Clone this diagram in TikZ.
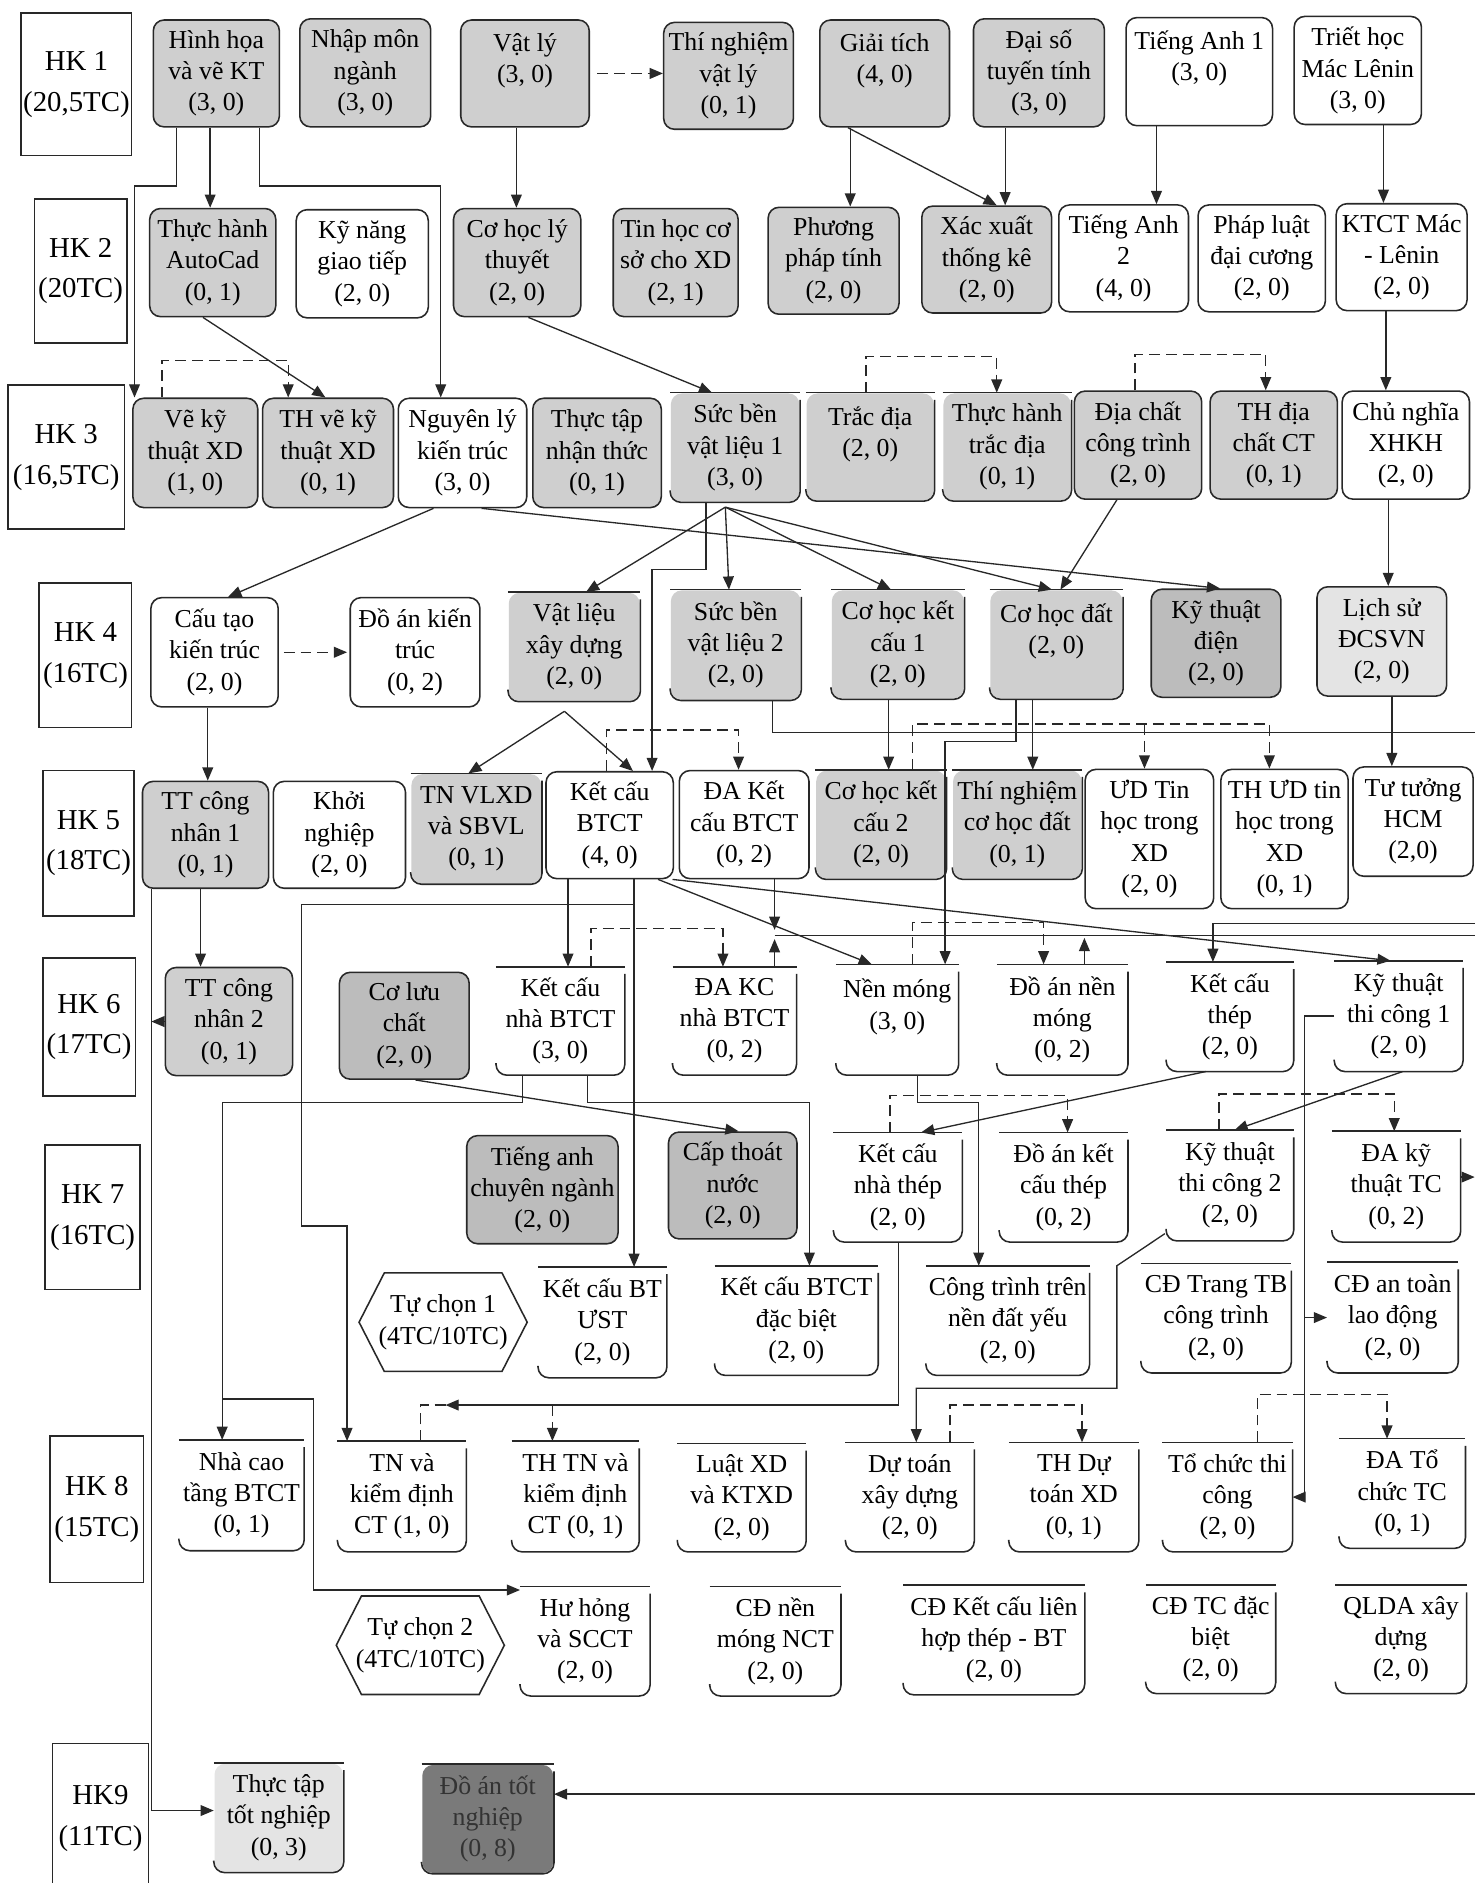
\documentclass[tikz,border=0pt]{standalone}
\usepackage{fontspec}
\setmainfont{Liberation Serif}
\usetikzlibrary{arrows.meta}
\definecolor{ink}{RGB}{40,40,40}
\definecolor{boxgray}{RGB}{207,207,207}
\definecolor{boxgraydk}{RGB}{188,188,188}
\definecolor{boxgraylt}{RGB}{228,228,228}
\definecolor{boxdark}{RGB}{122,122,122}
\newcommand{\coursefont}{\fontsize{21.5}{26}\selectfont}
\newcommand{\semfont}{\fontsize{24}{34}\selectfont}
\begin{document}
\begin{tikzpicture}[%
        x=1pt, y=-1pt,
        mybox/.style={draw=ink, line width=1.3pt, rounded corners=9pt, fill=white,
            anchor=north west, align=center, inner sep=1pt, font=\coursefont},
        mygray/.style={mybox, fill=boxgray},
        myopen/.style={mybox, draw=none},
        mygrayopen/.style={myopen, fill=boxgray},
        mysem/.style={draw=ink, line width=1.3pt, anchor=north west, align=center,
            inner sep=1pt, font=\semfont},
        myedge/.style={draw=ink, line width=1.3pt},
        wh/.style 2 args={minimum width=#1, minimum height=#2},
        myline/.style={draw=ink, line width=1.1pt},
        mylink/.style={myline, -{Triangle[length=11pt,width=9pt]}},
        mydash/.style={mylink, dash pattern=on 9pt off 5pt}
    ]
    \useasboundingbox (0,0) rectangle (1228,1568);
    \fill[white] (0,0) rectangle (1228,1568);

    \node[mysem, wh={92}{119}] (hk1) at (17,10) {HK 1\\(20,5TC)};
    \node[mygray, wh={105}{89}] (hinhhoa) at (127,16) {Hình họa\\và vẽ KT\\(3, 0)};
    \node[mygray, wh={109}{90}] (nhapmon) at (249,15) {Nhập môn\\ngành\\(3, 0)};
    \node[mygray, wh={107}{89}] (vatly) at (383,16) {Vật lý\\(3, 0)\\~};
    \node[mygray, wh={108}{89}] (tnvatly) at (552,18) {Thí nghiệm\\vật lý\\(0, 1)};
    \node[mygray, wh={108}{89}] (giaitich) at (682,16) {Giải tích\\(4, 0)\\~};
    \node[mygray, wh={109}{90}] (daiso) at (810,15) {Đại số\\tuyến tính\\(3, 0)};
    \node[mybox, wh={122}{90}] (tienganh1) at (937,14) {Tiếng Anh 1\\(3, 0)\\~};
    \node[mybox, wh={106}{90}] (triethoc) at (1077,13) {Triết học\\Mác Lênin\\(3, 0)};

    \node[mysem, wh={77}{120}] (hk2) at (28,165) {HK 2\\(20TC)};
    \node[mygray, wh={105}{90}] (autocad) at (124,173) {Thực hành\\AutoCad\\(0, 1)};
    \node[mybox, wh={110}{90}] (kynang) at (246,174) {Kỹ năng\\giao tiếp\\(2, 0)};
    \node[mygray, wh={106}{90}] (cohoclt) at (377,173) {Cơ học lý\\thuyết\\(2, 0)};
    \node[mygray, wh={104}{90}] (tinhoc) at (510,173) {Tin học cơ\\sở cho XD\\(2, 1)};
    \node[mygray, wh={109}{89}] (pppt) at (639,172) {Phương\\pháp tính\\(2, 0)};
    \node[mygray, wh={108}{89}] (xacxuat) at (767,171) {Xác xuất\\thống kê\\(2, 0)};
    \node[mybox, wh={108}{89}] (tienganh2) at (881,170) {Tiếng Anh\\2\\(4, 0)};
    \node[mybox, wh={106}{89}] (phapluat) at (997,170) {Pháp luật\\đại cương\\(2, 0)};
    \node[mybox, wh={109}{89}] (ktct) at (1112,169) {KTCT Mác\\- Lênin\\(2, 0)};

    \node[mysem, wh={97}{120}] (hk3) at (6,320) {HK 3\\(16,5TC)};
    \node[mygray, wh={104}{91}] (vekt) at (110,331) {Vẽ kỹ\\thuật XD\\(1, 0)};
    \node[mygray, wh={109}{91}] (thvekt) at (218,331) {TH vẽ kỹ\\thuật XD\\(0, 1)};
    \node[mybox, wh={107}{91}] (nguyenly) at (331,331) {Nguyên lý\\kiến trúc\\(3, 0)};
    \node[mygray, wh={107}{91}] (thuctapnt) at (443,331) {Thực tập\\nhận thức\\(0, 1)};
    \node[mygrayopen, wh={107}{90}] (sbvl1) at (558,327) {Sức bền\\vật liệu 1\\(3, 0)};
    \node[mygrayopen, wh={106}{89}] (tracdia) at (671,327) {Trắc địa\\(2, 0)\\~};
    \node[mygrayopen, wh={106}{89}] (thtracdia) at (785,327) {Thực hành\\trắc địa\\(0, 1)};
    \node[mygray, wh={106}{90}] (diachat) at (894,325) {Địa chất\\công trình\\(2, 0)};
    \node[mygray, wh={106}{90}] (thdiachat) at (1007,325) {TH địa\\chất CT\\(0, 1)};
    \node[mybox, wh={106}{90}] (cnxhkh) at (1117,325) {Chủ nghĩa\\XHKH\\(2, 0)};

    \node[mysem, wh={77}{120}] (hk4) at (32,485) {HK 4\\(16TC)};
    \node[mybox, wh={106}{91}] (cautao) at (125,497) {Cấu tạo\\kiến trúc\\(2, 0)};
    \node[mybox, wh={108}{91}] (doankt) at (291,497) {Đồ án kiến\\trúc\\(0, 2)};
    \node[mygrayopen, wh={109}{90}] (vlxd) at (423,493) {Vật liệu\\xây dựng\\(2, 0)};
    \node[mygrayopen, wh={108}{91}] (sbvl2) at (558,491) {Sức bền\\vật liệu 2\\(2, 0)};
    \node[mygrayopen, wh={110}{90}] (chkc1) at (692,491) {Cơ học kết\\cấu 1\\(2, 0)};
    \node[mygrayopen, wh={110}{90}] (chdat) at (824,491) {Cơ học đất\\(2, 0)\\~};
    \node[mygray, fill=boxgraydk, wh={108}{90}] (ktdien) at (958,490) {Kỹ thuật\\điện\\(2, 0)};
    \node[mybox, fill=boxgraylt, wh={108}{91}] (lichsu) at (1096,488) {Lịch sử\\ĐCSVN\\(2, 0)};

    \node[mysem, wh={76}{121}] (hk5) at (35,641) {HK 5\\(18TC)};
    \node[mygray, wh={105}{89}] (ttcn1) at (118,650) {TT công\\nhân 1\\(0, 1)};
    \node[mybox, wh={110}{89}] (khoinghiep) at (227,650) {Khởi\\nghiệp\\(2, 0)};
    \node[mygrayopen, wh={108}{91}] (tnvlxd) at (342,644) {TN VLXD\\và SBVL\\(0, 1)};
    \node[mybox, wh={106}{89}] (kcbtct) at (454,642) {Kết cấu\\BTCT\\(4, 0)};
    \node[mybox, wh={108}{90}] (dakcbtct) at (565,641) {ĐA Kết\\cấu BTCT\\(0, 2)};
    \node[mygrayopen, wh={108}{90}] (chkc2) at (679,641) {Cơ học kết\\cấu 2\\(2, 0)};
    \node[mygrayopen, wh={107}{90}] (tnchdat) at (793,641) {Thí nghiệm\\cơ học đất\\(0, 1)};
    \node[mybox, wh={107}{116}] (udtin) at (903,640) {ƯD Tin\\học trong\\XD\\(2, 0)};
    \node[mybox, wh={106}{116}] (thudtin) at (1016,640) {TH ƯD tin\\học trong\\XD\\(0, 1)};
    \node[mybox, wh={100}{91}] (tutuong) at (1126,638) {Tư tưởng\\HCM\\(2,0)};

    \node[mysem, wh={77}{115}] (hk6) at (35,797) {HK 6\\(17TC)};
    \node[mygray, wh={106}{90}] (ttcn2) at (137,805) {TT công\\nhân 2\\(0, 1)};
    \node[mygray, fill=boxgraydk, wh={108}{89}] (coluu) at (282,809) {Cơ lưu\\chất\\(2, 0)};
    \node[myopen, wh={106}{89}] (kcnhabtct) at (413,805) {Kết cấu\\nhà BTCT\\(3, 0)};
    \node[myopen, wh={102}{89}] (dakcnha) at (560,805) {ĐA KC\\nhà BTCT\\(0, 2)};
    \node[myopen, wh={101}{91}] (nenmong) at (696,803) {Nền móng\\(3, 0)\\~};
    \node[myopen, wh={108}{91}] (doannm) at (830,803) {Đồ án nền\\móng\\(0, 2)};
    \node[myopen, wh={105}{90}] (kcthep) at (971,801) {Kết cấu\\thép\\(2, 0)};
    \node[myopen, wh={106}{91}] (kttc1) at (1111,800) {Kỹ thuật\\thi công 1\\(2, 0)};

    \node[mysem, wh={79}{120}] (hk7) at (37,953) {HK 7\\(16TC)};
    \node[mygray, fill=boxgraydk, wh={126}{90}] (tienganhcn) at (388,945) {Tiếng anh\\chuyên ngành\\(2, 0)};
    \node[mygray, fill=boxgraydk, wh={107}{89}] (capthoat) at (556,942) {Cấp thoát\\nước\\(2, 0)};
    \node[myopen, wh={106}{90}] (kcnhathep) at (694,943) {Kết cấu\\nhà thép\\(2, 0)};
    \node[myopen, wh={106}{90}] (doankcthep) at (832,943) {Đồ án kết\\cấu thép\\(0, 2)};
    \node[myopen, wh={105}{91}] (kttc2) at (971,941) {Kỹ thuật\\thi công 2\\(2, 0)};
    \node[myopen, wh={106}{91}] (dakttc) at (1109,942) {ĐA kỹ\\thuật TC\\(0, 2)};
    \node[font=\coursefont, align=center, inner sep=0pt] (tuchon1) at (369,1101) {Tự chọn 1\\(4TC/10TC)};
    \node[myopen, wh={106}{91}] (kcbtust) at (448,1055) {Kết cấu BT\\ƯST\\(2, 0)};
    \node[myopen, wh={135}{90}] (kcbtctdb) at (595,1054) {Kết cấu BTCT\\đặc biệt\\(2, 0)};
    \node[myopen, wh={135}{90}] (ctnendat) at (771,1054) {Công trình trên\\nền đất yếu\\(2, 0)};
    \node[myopen, wh={124}{90}] (cdtrangtb) at (950,1052) {CĐ Trang TB\\công trình\\(2, 0)};
    \node[myopen, wh={108}{91}] (cdantoan) at (1105,1051) {CĐ an toàn\\lao động\\(2, 0)};

    \node[mysem, wh={78}{122}] (hk8) at (41,1195) {HK 8\\(15TC)};
    \node[myopen, wh={103}{91}] (nhacao) at (149,1199) {Nhà cao\\tầng BTCT\\(0, 1)};
    \node[myopen, wh={106}{91}] (tnkd) at (281,1200) {TN và\\kiểm định\\CT (1, 0)};
    \node[myopen, wh={105}{91}] (thtnkd) at (426,1200) {TH TN và\\kiểm định\\CT (0, 1)};
    \node[myopen, wh={106}{89}] (luatxd) at (564,1202) {Luật XD\\và KTXD\\(2, 0)};
    \node[myopen, wh={106}{90}] (dutoan) at (704,1201) {Dự toán\\xây dựng\\(2, 0)};
    \node[myopen, wh={107}{90}] (thdutoan) at (840,1201) {TH Dự\\toán XD\\(0, 1)};
    \node[myopen, wh={107}{90}] (tochuc) at (968,1201) {Tổ chức thi\\công\\(2, 0)};
    \node[myopen, wh={104}{90}] (datochuc) at (1115,1198) {ĐA Tổ\\chức TC\\(0, 1)};
    \node[font=\coursefont, align=center, inner sep=0pt] (tuchon2) at (350,1370) {Tự chọn 2\\(4TC/10TC)};
    \node[myopen, wh={107}{90}] (huhong) at (433,1321) {Hư hỏng\\và SCCT\\(2, 0)};
    \node[myopen, wh={108}{90}] (cdnenmong) at (591,1321) {CĐ nền\\móng NCT\\(2, 0)};
    \node[myopen, wh={150}{90}] (cdlienhop) at (752,1320) {CĐ Kết cấu liên\\hợp thép - BT\\(2, 0)};
    \node[myopen, wh={107}{89}] (cdtcdb) at (954,1320) {CĐ TC đặc\\biệt\\(2, 0)};
    \node[myopen, wh={108}{89}] (qlda) at (1112,1320) {QLDA xây\\dựng\\(2, 0)};

    \node[mysem, wh={80}{125}] (hk9) at (43,1451) {HK9\\(11TC)};
    \node[mygrayopen, fill=boxgraylt, wh={107}{90}] (thuctaptn) at (178,1468) {Thực tập\\tốt nghiệp\\(0, 3)};
    \node[mygrayopen, fill=boxdark, text=black!80, wh={109}{90}] (doantn) at (351,1469) {Đồ án tốt\\nghiệp\\(0, 8)};

    \foreach \n in {sbvl1,tracdia,thtracdia,vlxd,sbvl2,chkc1,chdat,tnvlxd,chkc2,tnchdat,
        kcnhabtct,dakcnha,nenmong,doannm,kcthep,kttc1,kcnhathep,doankcthep,kttc2,dakttc,
        kcbtust,kcbtctdb,ctnendat,cdtrangtb,cdantoan,nhacao,tnkd,thtnkd,luatxd,dutoan,
        thdutoan,tochuc,datochuc,huhong,cdnenmong,cdlienhop,cdtcdb,qlda,thuctaptn,doantn} {
        \draw[myedge] (\n.north west) -- (\n.north east);
        \draw[myedge, rounded corners=9pt] ([yshift=-6pt]\n.north east) -- (\n.south east)
            -- (\n.south west) -- ([yshift=10pt]\n.south west);
    }
    \foreach \n in {tuchon1,tuchon2}
        \draw[myedge] ([xshift=-70pt]\n.center) -- ([shift={(-49pt,41pt)}]\n.center)
            -- ([shift={(49pt,41pt)}]\n.center) -- ([xshift=70pt]\n.center)
            -- ([shift={(49pt,-41pt)}]\n.center) -- ([shift={(-49pt,-41pt)}]\n.center) -- cycle;

    \foreach \a/\o/\b in {hinhhoa/48/autocad, vatly/47/cohoclt, giaitich/26/pppt,
        daiso/27/xacxuat, tienganh1/26/tienganh2, triethoc/75/ktct, ktct/42/cnxhkh,
        cnxhkh/39/lichsu, cautao/48/ttcn1, chkc1/48/chkc2, chdat/36/tnchdat,
        lichsu/63/tutuong, ttcn1/49/ttcn2, kcbtct/19/kcnhabtct, kcbtct/74/kcbtust}
        \draw[mylink] ([xshift=\o pt]\a.south west) -- ([xshift=\o pt]\a.south west |- \b.north);
    \foreach \a/\p/\b/\q in {giaitich/24/xacxuat/63, autocad/45/thvekt/53, cohoclt/63/sbvl1/35,
        diachat/36/chdat/59, nguyenly/30/cautao/65, nguyenly/70/ktdien/58, kcbtct/94/nenmong/30,
        kcbtct/106/kttc1/47, kcthep/33/kcnhathep/73, kttc1/57/kttc2/57, coluu/64/capthoat/59}
        \draw[mylink] ([xshift=\p pt]\a.south west) -- ([xshift=\q pt]\b.north west);
    \foreach \a/\p/\h/\b/\q in {vekt/25/31/thvekt/22, tracdia/50/30/thtracdia/45,
        diachat/51/30/thdiachat/47, kcbtct/51/34/dakcbtct/50, kcnhabtct/79/32/dakcnha/42,
        nenmong/64/35/doannm/39, kcnhathep/47/31/doankcthep/57, kttc2/44/30/dakttc/52,
        tnkd/69/30/thtnkd/34, dutoan/87/31/thdutoan/61, tochuc/79/40/datochuc/40,
        chkc2/81/38/thudtin/41}
        \draw[mydash] ([xshift=\p pt]\a.north west) -- ++(0,-\h) -| ([xshift=\q pt]\b.north west);
    \draw[mydash] ([xshift=50pt]udtin.north west |- 0,603) -- ([xshift=50pt]udtin.north west);
    \draw[mydash] ([xshift=6pt]vatly.east) -- (tnvatly.west |- vatly.east);
    \draw[mydash] ([xshift=4pt]cautao.east) -- ([xshift=-2pt]doankt.west);

    \draw[mylink] ([xshift=20pt]hinhhoa.south west) |- (112,155) -- ([xshift=2pt]vekt.north west);
    \draw[mylink] ([xshift=-17pt]hinhhoa.south east) |- (367,155) -- ([xshift=36pt]nguyenly.north west);

    \coordinate (sbfan) at ([xshift=46pt,yshift=-4pt]sbvl1.south west);
    \foreach \b/\q in {vlxd/65, sbvl2/49, chkc1/50, chdat/52}
        \draw[mylink] (sbfan) -- ([xshift=\q pt]\b.north west);
    \coordinate (vlfan) at ([xshift=47pt,yshift=-8pt]vlxd.south west);
    \foreach \b/\q in {tnvlxd/48, kcbtct/73}
        \draw[mylink] (vlfan) -- ([xshift=\q pt]\b.north west);
    \draw[mylink] ([xshift=30pt]sbvl1.south west) -- ++(0,56) -| ([xshift=89pt]kcbtct.north west);

    \coordinate (edgeA) at (1228,610);
    \coordinate (edgeB) at (1228,779);
    \coordinate (edgeC) at (1228,769);
    \coordinate (edgeD) at (1228,1494);
    \coordinate (tnjoin) at (371,1170);
    \draw[myline] ([xshift=-24pt]sbvl2.south east) |- (edgeA);
    \draw[mylink] ([xshift=22pt]chdat.south west) -- ++(0,35) -| ([xshift=91pt]nenmong.north west);
    \draw[mylink] ([xshift=8pt]ttcn1.south west) |- ([yshift=6pt]thuctaptn.west);
    \draw[mylink] (ttcn2.west) -- (ttcn2.west -| 126,0);
    \draw[mylink] ([xshift=74pt]kcbtct.south west) |- (251,753) |- (289,1021) -- ([xshift=8pt]tnkd.north west);
    \draw[mylink] ([xshift=80pt]dakcbtct.south west) -- ++(0,42);
    \draw[myline] ([xshift=85pt]dakcnha.north west |- edgeB) -- (edgeB);
    \draw[mylink] ([xshift=85pt]dakcnha.north west) -- ++(0,-23);
    \draw[mylink] ([xshift=73pt]doannm.north west) -- ++(0,-22);
    \draw[mylink] (edgeC) -| ([xshift=39pt]kcthep.north west);
    \draw[mylink] (kttc1.west) -- ++(-25,0) |- (tochuc.east);
    \draw[mylink] (cdantoan.west -| 1086,0) -- (cdantoan.west);
    \draw[mylink] ([yshift=8pt]dakttc.east) -- ([yshift=8pt]dakttc.east -| edgeB);
    \draw[mylink] ([xshift=68pt]nenmong.south west) -- ++(0,23) -| ([xshift=44pt]ctnendat.north west);
    \draw[mylink] ([xshift=22pt]kcnhabtct.south west) -- ++(0,23) -| ([xshift=36pt]nhacao.north west);
    \draw[mylink] ([xshift=36pt]nhacao.north west |- 0,1165) -| (261,1324) -- (huhong.west |- 0,1324);
    \draw[mylink] ([xshift=76pt]kcnhabtct.south west) -- ++(0,23) -| ([xshift=79pt]kcbtctdb.north west);
    \draw[mylink] ([xshift=54pt]kcnhathep.south west) |- (tnjoin);
    \draw[mylink] ([shift={(-1pt,6pt)}]kttc2.south west) -- (930,1054) |- (763,1156) -- ([xshift=59pt]dutoan.north west);
    \draw[mylink] (edgeD) -- (doantn.east |- edgeD);
\end{tikzpicture}
\end{document}
